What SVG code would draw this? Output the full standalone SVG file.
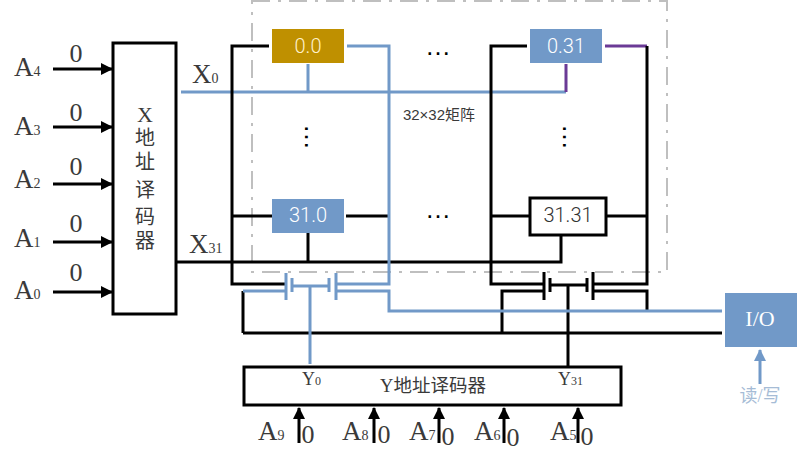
<svg xmlns="http://www.w3.org/2000/svg" width="801" height="461" viewBox="0 0 801 461">
<style>
.k{fill:none;stroke:#000;stroke-width:3}
.b{fill:none;stroke:#7199c8;stroke-width:3}
.p{fill:none;stroke:#6b3a96;stroke-width:3}
.box{fill:#fff;stroke:#000;stroke-width:3}
.cell{fill:#7199c8}
text{font-family:"Liberation Serif","Noto Sans CJK SC",serif;fill:#3a3a3a}
.a{font-size:27px}
.s{font-size:14px}
.z{font-size:26px;text-anchor:middle}
.c{font-size:20px;text-anchor:middle}
.w{font-size:20px;text-anchor:middle;fill:#fff;font-family:"Roboto",sans-serif;font-weight:300}
.d{font-size:26px;text-anchor:middle;fill:#000;font-family:"Liberation Sans",sans-serif}
</style>
<defs>
<marker id="ah" markerUnits="userSpaceOnUse" markerWidth="12" markerHeight="12" refX="11" refY="6" orient="auto"><path d="M0 0L12 6L0 12Z" fill="#000"/></marker>
<marker id="ab" markerUnits="userSpaceOnUse" markerWidth="12" markerHeight="12" refX="11" refY="6" orient="auto"><path d="M0 0L12 6L0 12Z" fill="#7199c8"/></marker>
</defs>
<g id="frame"><rect x="252" y="1" width="415" height="271" fill="none" stroke="#bfbfbf" stroke-width="2" stroke-dasharray="18 8 3 8"/></g>
<g id="connectors">
<path class="b" d="M181 92H566M308 64V92"/>
<path class="p" d="M566 92V64M605 46H647"/>
<path class="k" d="M269 46H232V284H285M232 216H272M346 216H389M308 233V262M176 262H561V235"/>
<path class="k" d="M527 46H491V284H544M491 216H530M606 216H647M647 46V284H593M593 291H647V311M544 291H502V333M243 333H722M243 291V333"/>
<path class="k" d="M544 272V300M550 278V292M550 285H587M587 278V292M593 272V300M568 285V367"/>
<path class="b" d="M347 46H389V284H336M336 291H389V311H722M243 291H286"/>
<path class="b" d="M286 273V300M292 278V292M292 286H329M329 278V292M336 273V300M310 286V364"/>
<path class="b" d="M760 384V350" marker-end="url(#ab)"/>
<path class="k" d="M53 69H112" marker-end="url(#ah)"/>
<path class="k" d="M53 127H112" marker-end="url(#ah)"/>
<path class="k" d="M53 184H112" marker-end="url(#ah)"/>
<path class="k" d="M53 242H112" marker-end="url(#ah)"/>
<path class="k" d="M53 292H112" marker-end="url(#ah)"/>
<path class="k" d="M299 443V408" marker-end="url(#ah)"/>
<path class="k" d="M374 443V408" marker-end="url(#ah)"/>
<path class="k" d="M439 443V408" marker-end="url(#ah)"/>
<path class="k" d="M504 443V408" marker-end="url(#ah)"/>
<path class="k" d="M578 443V408" marker-end="url(#ah)"/>
</g>
<g id="x-decoder"><rect class="box" x="113" y="43" width="63" height="271"/>
<text class="c" x="145" y="122" style="font-size:22px">X</text><text class="c" x="145" y="145">地</text><text class="c" x="145" y="169">址</text><text class="c" x="145" y="197">译</text><text class="c" x="145" y="224">码</text><text class="c" x="145" y="248">器</text></g>
<g id="y-decoder"><rect class="box" x="244" y="367" width="377" height="38"/>
<text class="c" x="433" y="392" style="font-size:18.5px">Y地址译码器</text>
<text x="302" y="385" font-size="18">Y<tspan style="font-size:12px">0</tspan></text>
<text x="558" y="385" font-size="18">Y<tspan style="font-size:12px">31</tspan></text></g>
<g id="cell-0-0"><rect x="272" y="29" width="72" height="34" fill="#bf9000"/><text class="w" x="308" y="53" style="fill:#fff2cc">0.0</text></g>
<g id="cell-0-31"><rect class="cell" x="530" y="29" width="72" height="34"/><text class="w" x="566" y="53">0.31</text></g>
<g id="cell-31-0"><rect class="cell" x="272" y="199" width="72" height="34"/><text class="w" x="308" y="222">31.0</text></g>
<g id="cell-31-31"><rect class="box" x="530" y="198" width="76" height="37"/><text class="w" x="568" y="222" style="fill:#333">31.31</text></g>
<g id="io"><rect class="cell" x="725" y="293" width="72" height="54"/><text x="760" y="326" text-anchor="middle" font-size="22" style="fill:#fff">I/O</text></g>
<g id="labels">
<text x="192" y="83" class="a">X<tspan class="s">0</tspan></text>
<text x="189" y="253" class="a">X<tspan class="s">31</tspan></text>
<text x="14" y="76" class="a">A<tspan class="s">4</tspan></text>
<text x="14" y="135" class="a">A<tspan class="s">3</tspan></text>
<text x="14" y="188" class="a">A<tspan class="s">2</tspan></text>
<text x="14" y="247" class="a">A<tspan class="s">1</tspan></text>
<text x="14" y="299" class="a">A<tspan class="s">0</tspan></text>
<text class="z" x="76" y="62">0</text><text class="z" x="76" y="121">0</text><text class="z" x="76" y="175">0</text><text class="z" x="76" y="232">0</text><text class="z" x="76" y="281">0</text>
<text x="258" y="440" class="a">A<tspan class="s">9</tspan></text>
<text x="342" y="440" class="a">A<tspan class="s">8</tspan></text>
<text x="409" y="440" class="a">A<tspan class="s">7</tspan></text>
<text x="474" y="440" class="a">A<tspan class="s">6</tspan></text>
<text x="550" y="440" class="a">A<tspan class="s">5</tspan></text>
<text class="z" x="308" y="443">0</text><text class="z" x="384" y="443">0</text><text class="z" x="448" y="445">0</text><text class="z" x="513" y="446">0</text><text class="z" x="587" y="445">0</text>
<text x="439" y="120" text-anchor="middle" font-size="15" style="font-family:'Liberation Sans','Noto Sans CJK SC',sans-serif">32×32矩阵</text>
<text x="760" y="402" text-anchor="middle" font-size="18" style="fill:#a6bcd6">读/写</text>
<text class="d" x="438" y="55">…</text>
<text class="d" x="438" y="218">…</text>
<text class="d" transform="rotate(90 307 137)" x="307" y="139">…</text>
<text class="d" transform="rotate(90 565 137)" x="565" y="139">…</text>
</g>
</svg>
